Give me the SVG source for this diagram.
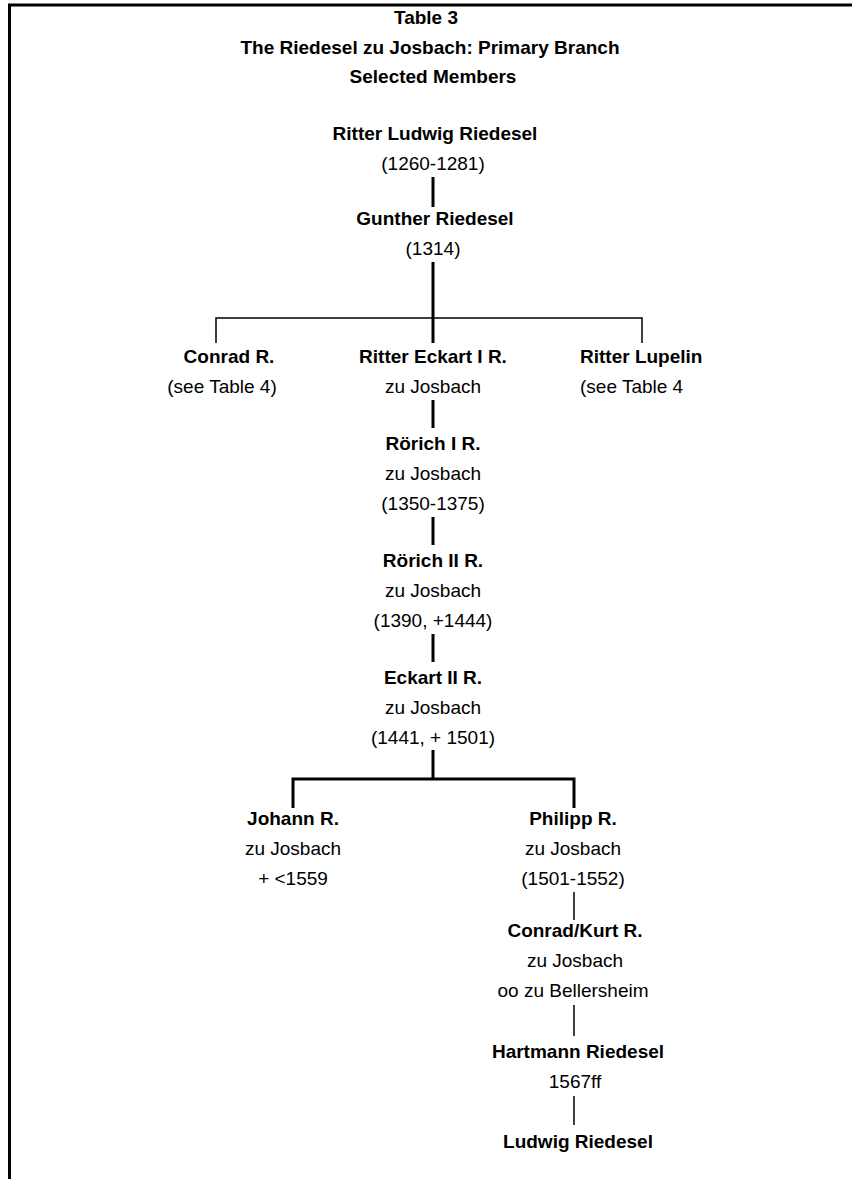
<svg xmlns="http://www.w3.org/2000/svg" width="852" height="1179" viewBox="0 0 852 1179">
<style>
text{font-family:"Liberation Sans",Arial,sans-serif;font-size:19px;fill:#000;text-anchor:middle}
.b{font-weight:bold}
.l{text-anchor:start}
.thick{stroke:#000;stroke-width:3;fill:none}
.thin{stroke:#000;stroke-width:1.5;fill:none}
.frame{stroke:#000;stroke-width:3;fill:none}
</style>
<rect width="852" height="1179" fill="#fff"/>
<g id="frame">
<path class="frame" d="M9.5,1179 V5 H852"/>
</g>
<g id="title">
<text class="b" x="426" y="24">Table 3</text>
<text class="b" x="430" y="54">The Riedesel zu Josbach: Primary Branch</text>
<text class="b" x="433" y="83">Selected Members</text>
</g>
<g id="connectors">
<line class="thick" x1="433" y1="177" x2="433" y2="207"/>
<line class="thick" x1="433" y1="262" x2="433" y2="343"/>
<path class="thin" d="M216,343 V318 H642 V343"/>
<line class="thick" x1="433" y1="400" x2="433" y2="428"/>
<line class="thick" x1="433" y1="517" x2="433" y2="545"/>
<line class="thick" x1="433" y1="634" x2="433" y2="662"/>
<line class="thick" x1="433" y1="750" x2="433" y2="779"/>
<path class="thick" d="M293,808 V779 H574 V808"/>
<line class="thin" x1="574" y1="892" x2="574" y2="920"/>
<line class="thin" x1="574" y1="1005" x2="574" y2="1036"/>
<line class="thin" x1="574" y1="1096" x2="574" y2="1125"/>
</g>
<g id="n-ludwig">
<text class="b" x="435" y="140">Ritter Ludwig Riedesel</text>
<text x="433" y="170">(1260-1281)</text>
</g>
<g id="n-gunther">
<text class="b" x="435" y="225">Gunther Riedesel</text>
<text x="433" y="255">(1314)</text>
</g>
<g id="n-conrad">
<text class="b" x="229" y="363">Conrad R.</text>
<text x="222" y="393">(see Table 4)</text>
</g>
<g id="n-eckart1">
<text class="b" x="433" y="363">Ritter Eckart I R.</text>
<text x="433" y="393">zu Josbach</text>
</g>
<g id="n-lupelin">
<text class="b l" x="580" y="363">Ritter Lupelin</text>
<text class="l" x="580" y="393">(see Table 4</text>
</g>
<g id="n-roerich1">
<text class="b" x="433" y="450">Rörich I R.</text>
<text x="433" y="480">zu Josbach</text>
<text x="433" y="510">(1350-1375)</text>
</g>
<g id="n-roerich2">
<text class="b" x="433" y="567">Rörich II R.</text>
<text x="433" y="597">zu Josbach</text>
<text x="433" y="627">(1390, +1444)</text>
</g>
<g id="n-eckart2">
<text class="b" x="433" y="684">Eckart II R.</text>
<text x="433" y="714">zu Josbach</text>
<text x="433" y="744">(1441, + 1501)</text>
</g>
<g id="n-johann">
<text class="b" x="293" y="825">Johann R.</text>
<text x="293" y="855">zu Josbach</text>
<text x="293" y="885">+ &lt;1559</text>
</g>
<g id="n-philipp">
<text class="b" x="573" y="825">Philipp R.</text>
<text x="573" y="855">zu Josbach</text>
<text x="573" y="885">(1501-1552)</text>
</g>
<g id="n-conradkurt">
<text class="b" x="575" y="937">Conrad/Kurt R.</text>
<text x="575" y="967">zu Josbach</text>
<text x="573" y="997">oo zu Bellersheim</text>
</g>
<g id="n-hartmann">
<text class="b" x="578" y="1058">Hartmann Riedesel</text>
<text x="575" y="1088">1567ff</text>
</g>
<g id="n-ludwig2">
<text class="b" x="578" y="1148">Ludwig Riedesel</text>
</g>
</svg>
